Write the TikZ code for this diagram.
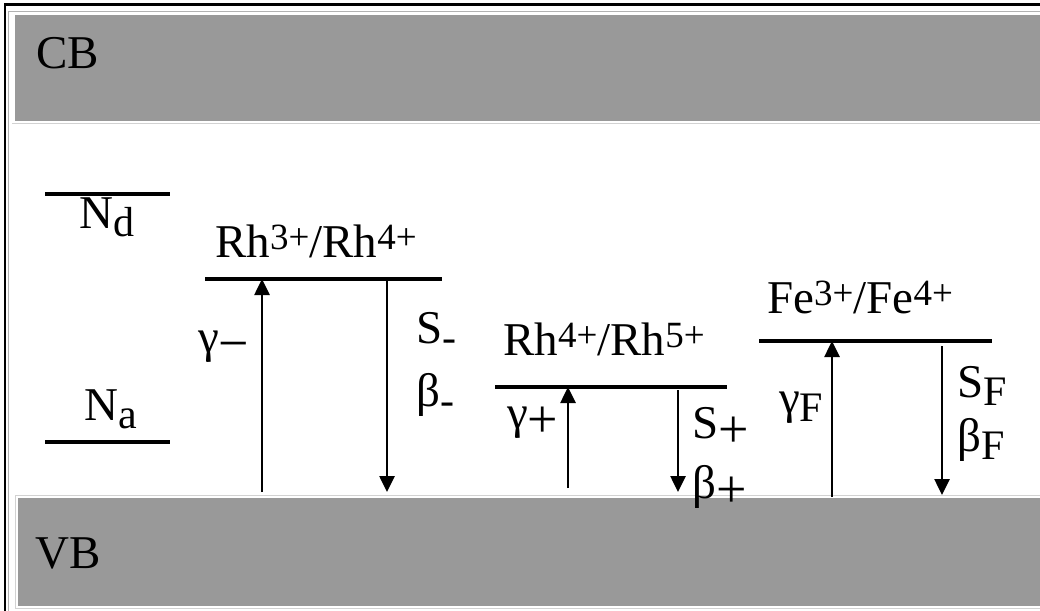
\documentclass[tikz,border=0pt]{standalone}
\usepackage{fontspec}
\setmainfont{Liberation Serif}
\usetikzlibrary{arrows.meta}
\definecolor{bandgray}{HTML}{999999}
\definecolor{edgegray}{HTML}{D2D2D2}
\newcommand{\lo}[1]{\raisebox{-8pt}{\fontsize{42}{42}\selectfont #1}}
\newcommand{\losign}[1]{\raisebox{-9pt}{\fontsize{54}{54}\selectfont #1}}
\newcommand{\hi}[1]{\raisebox{8pt}{\fontsize{37}{37}\selectfont #1}}
\begin{document}
\begin{tikzpicture}[
		x=1pt, y=-1pt,
		band/.style={fill=bandgray},
		level/.style={line width=3.3pt},
		trans/.style={line width=2.6pt, -{Triangle[length=16pt,width=15pt]}},
		lab/.style={anchor=base west, inner sep=0pt, font=\fontsize{47}{50}\selectfont}
	]
	\useasboundingbox (0,0) rectangle (1040,610);
	\clip (0,0) rectangle (1040,610);
	% frame
	\draw[line width=2.2pt] (5,620) -- (5,4.5) -- (1050,4.5);
	\draw[gray!60, line width=0.8pt] (8,620) -- (8,11.5) -- (1050,11.5);
	% bands
	\fill[band] (15,15) rectangle (1050,121);
	\draw[edgegray, line width=0.8pt] (12,123.5) -- (1050,123.5);
	\fill[band] (18,498) rectangle (1050,606);
	\draw[edgegray, line width=0.8pt] (1050,495) -- (15,495) -- (15,608.5) -- (1050,608.5);
	\node[lab] (cb) at (36,68) {CB};
	\node[lab] (vb) at (35,568) {VB};
	\coordinate (vbtop) at (0,492);
	% donor and acceptor
	\draw[level] (45,194) coordinate (nd-l) -- (170,194) coordinate (nd-r);
	\draw[level] (45,442) coordinate (na-l) -- (170,442) coordinate (na-r);
	\node[lab] (nd) at (79,228) {N\lo{d}};
	\node[lab] (na) at (84,420) {N\lo{a}};
	% ion levels
	\draw[level] (205,279) coordinate (rha-l) -- (442,279) coordinate (rha-r);
	\draw[level] (495,387) coordinate (rhb-l) -- (727,387) coordinate (rhb-r);
	\draw[level] (759,341) coordinate (fe-l) -- (992,341) coordinate (fe-r);
	\node[lab] (rha) at (215,257) {Rh\hi{3+}/Rh\hi{4+}};
	\node[lab] (rhb) at (503,355) {Rh\hi{4+}/Rh\hi{5+}};
	\node[lab] (fe) at (767,313) {Fe\hi{3+}/Fe\hi{4+}};
	% transitions
	\coordinate (up-rha) at (262,492);
	\coordinate (dn-rha) at (387,279);
	\coordinate (up-rhb) at (568,488);
	\coordinate (dn-rhb) at (678,387);
	\coordinate (up-fe) at (832,497);
	\coordinate (dn-fe) at (942,341);
	\draw[trans] (up-rha) -- (up-rha |- rha-l);
	\draw[trans] (dn-rha) -- (dn-rha |- vbtop);
	\draw[trans] (up-rhb) -- (up-rhb |- rhb-l);
	\draw[trans, shorten <=3pt] (dn-rhb) -- (dn-rhb |- vbtop);
	\draw[trans] (up-fe) -- (up-fe |- fe-l);
	\draw[trans, shorten <=5pt] (dn-fe) -- ([yshift=-3pt]dn-fe |- vbtop);
	% rates
	\node[lab] (gm) at (198,352) {γ\losign{−}};
	\node[lab] (sm) at (416,343) {S\lo{-}};
	\node[lab] (bm) at (416,406) {β\lo{-}};
	\node[lab] (gp) at (507,428) {γ\losign{+}};
	\node[lab] (sp) at (692,438) {S\losign{+}};
	\node[lab] (bp) at (692,498) {β\losign{+}};
	\node[lab] (gf) at (779,413) {γ\lo{F}};
	\node[lab] (sf) at (957,397) {S\lo{F}};
	\node[lab] (bf) at (957,451) {β\lo{F}};
\end{tikzpicture}
\end{document}
